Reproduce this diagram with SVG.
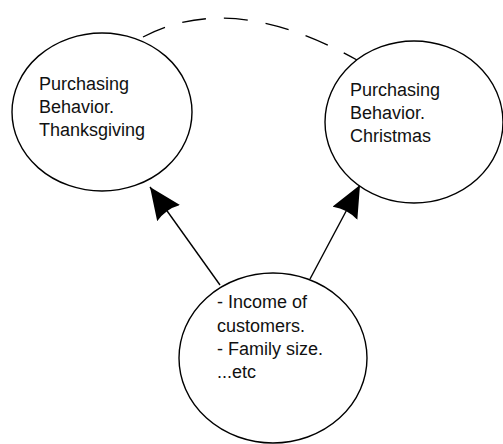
<svg xmlns="http://www.w3.org/2000/svg" width="503" height="444" viewBox="0 0 503 444">
<style>
.node{fill:#fff;stroke:#000;stroke-width:1.4}
.lbl{font-family:"Liberation Sans",Arial,sans-serif;font-size:18px;fill:#111}
.edge{fill:none;stroke:#000;stroke-width:1.4}
.dash{fill:none;stroke:#000;stroke-width:1.4;stroke-dasharray:24 18}
</style>
<defs>
<marker id="arr" markerUnits="userSpaceOnUse" markerWidth="34" markerHeight="30" refX="32" refY="14" orient="auto">
<path d="M0,0 L32,14 L0,28 Q5,14 0,0 z" fill="#000"/>
</marker>
</defs>
<rect width="503" height="444" fill="#fff"/>
<g id="edges">
<path class="dash" d="M143,37 Q232,-10 357,60"/>
<line class="edge" x1="220" y1="285" x2="150" y2="187" marker-end="url(#arr)"/>
<line class="edge" x1="310" y1="279" x2="360" y2="185" marker-end="url(#arr)"/>
</g>
<g id="thanksgiving">
<ellipse class="node" cx="102" cy="112" rx="90" ry="79"/>
<text class="lbl" x="39" y="90">Purchasing</text>
<text class="lbl" x="39" y="113">Behavior.</text>
<text class="lbl" x="39" y="136">Thanksgiving</text>
</g>
<g id="christmas">
<ellipse class="node" cx="414" cy="122" rx="89" ry="81"/>
<text class="lbl" x="350" y="96">Purchasing</text>
<text class="lbl" x="350" y="119">Behavior.</text>
<text class="lbl" x="350" y="142">Christmas</text>
</g>
<g id="factors">
<ellipse class="node" cx="273" cy="358" rx="94" ry="85"/>
<text class="lbl" x="217" y="308">- Income of</text>
<text class="lbl" x="217" y="332">customers.</text>
<text class="lbl" x="217" y="355">- Family size.</text>
<text class="lbl" x="217" y="378">...etc</text>
</g>
</svg>
